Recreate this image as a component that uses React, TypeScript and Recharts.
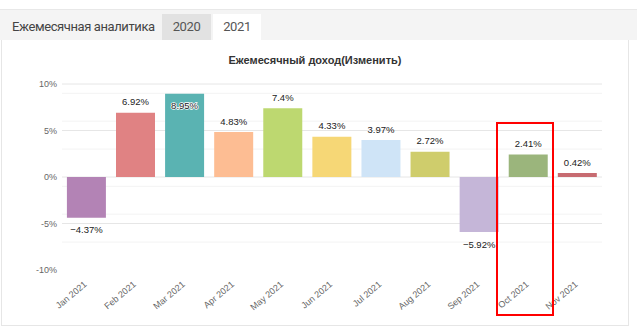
import React from 'react';
import { BarChart, Bar, Cell, XAxis, YAxis, CartesianGrid, LabelList } from 'recharts';

// Monthly return, %
const months = ['Jan 2021', 'Feb 2021', 'Mar 2021', 'Apr 2021', 'May 2021', 'Jun 2021', 'Jul 2021', 'Aug 2021', 'Sep 2021', 'Oct 2021', 'Nov 2021'];
const returns = [-4.37, 6.92, 8.95, 4.83, 7.4, 4.33, 3.97, 2.72, -5.92, 2.41, 0.42];
const palette = ['#b383b5', '#e08283', '#5ab3b2', '#fdbd93', '#bdd870', '#f6d776', '#cfe4f7', '#cfcd6c', '#c5b6d8', '#9bb57c', '#c76b71'];

const yTicks = [-10, -5, 0, 5, 10];
const majorLines = [-5, 0, 5, 10];
const minorLines = [-9, -8, -7, -6, -4, -3, -2, -1, 1, 2, 3, 4, 6, 7, 8, 9];

const W = 637;
const H = 334;
const PLOT_TOP = 84;
const FONT = '"Liberation Sans", Arial, sans-serif';

const chartData = months.map((m, i) => ({ month: m, value: returns[i] }));

const fmt = (v: number) => (v < 0 ? '\u2212' + Math.abs(v) : String(v)) + '%';

// value labels: above positive bars, below negative ones, inside when it would clip the top
const ValueLabel = (props: any) => {
  const { x, y, width, height, value } = props;
  const cx = x + width / 2;
  const top = Math.min(y, y + height);
  const bottom = Math.max(y, y + height);
  let ly: number;
  let inside = false;
  if (value >= 0) {
    ly = top - 11;
    if (ly < PLOT_TOP + 8) {
      ly = top + 12;
      inside = true;
    }
  } else {
    ly = bottom + 12;
  }
  return (
    <text
      x={cx}
      y={ly}
      textAnchor="middle"
      dominantBaseline="central"
      fontSize={9.5}
      fontFamily={FONT}
      fill="#222"
      stroke={inside ? '#fff' : 'none'}
      strokeWidth={inside ? 1.5 : 0}
      style={{ paintOrder: 'stroke' }}
    >
      {fmt(value)}
    </text>
  );
};

const MonthTick = (props: any) => {
  const { x, y, payload } = props;
  const ax = x - 1;
  const ay = y + 13;
  return (
    <text
      x={ax}
      y={ay}
      transform={`rotate(-40, ${ax}, ${ay})`}
      textAnchor="end"
      dominantBaseline="central"
      fontSize={9}
      fontFamily={FONT}
      fill="#666"
    >
      {payload.value}
    </text>
  );
};

const tabText: React.CSSProperties = { fontSize: 13, letterSpacing: -0.4, color: '#555', lineHeight: '26px', textAlign: 'center' };

const App: React.FC = () => {
  return (
    <div style={{ position: 'absolute', left: 0, top: 0, width: W, height: H, background: '#fff', fontFamily: 'Roboto, sans-serif', overflow: 'hidden' }}>
      {/* tab strip */}
      <div style={{ position: 'absolute', left: 0, top: 9, width: W, height: 31, background: '#f4f4f4', borderTop: '1px solid #e8e8e8', boxSizing: 'border-box' }} />
      <div style={{ ...tabText, position: 'absolute', left: 12, top: 14, color: '#444', textAlign: 'left' }}>Ежемесячная аналитика</div>
      <div style={{ ...tabText, position: 'absolute', left: 162, top: 14, width: 49, height: 26, background: '#e2e2e2' }}>2020</div>
      <div style={{ ...tabText, position: 'absolute', left: 213, top: 14, width: 48, height: 26, background: '#fff' }}>2021</div>

      {/* panel */}
      <div style={{ position: 'absolute', left: 1, top: 40, width: 628, height: 286, border: '1px solid #e6e6e6', borderTop: 'none', boxSizing: 'border-box' }} />

      <div style={{ position: 'absolute', left: 0, top: 52, width: 630, textAlign: 'center', fontFamily: FONT, fontWeight: 'bold', fontSize: 11, color: '#333', lineHeight: '16px' }}>
        Ежемесячный доход(Изменить)
      </div>

      <div style={{ position: 'absolute', left: 0, top: 0 }}>
        <BarChart width={W} height={H} data={chartData} margin={{ top: PLOT_TOP, right: 35, left: 0, bottom: 0 }} barCategoryGap="10%">
          <CartesianGrid vertical={false} horizontalValues={minorLines} stroke="#f3f3f3" />
          <CartesianGrid vertical={false} horizontalValues={majorLines} stroke="#e6e6e6" />
          <XAxis dataKey="month" interval={0} axisLine={false} tickLine={false} tickSize={0} tickMargin={0} height={64} tick={<MonthTick />} />
          <YAxis
            domain={[-10, 10]}
            ticks={yTicks}
            width={62}
            axisLine={false}
            tickLine={false}
            tickSize={0}
            tickMargin={5}
            tickFormatter={(v: number) => `${v}%`}
            tick={{ fontSize: 9, fill: '#666', fontFamily: FONT }}
          />
          <Bar dataKey="value" isAnimationActive={false}>
            {chartData.map((d, i) => (
              <Cell key={d.month} fill={palette[i]} />
            ))}
            <LabelList dataKey="value" content={<ValueLabel />} />
          </Bar>
        </BarChart>
      </div>

      {/* highlight frame around October */}
      <div style={{ position: 'absolute', left: 496, top: 122, width: 58, height: 194, border: '2px solid #ff0000', boxSizing: 'border-box' }} />
    </div>
  );
};

export default App;
